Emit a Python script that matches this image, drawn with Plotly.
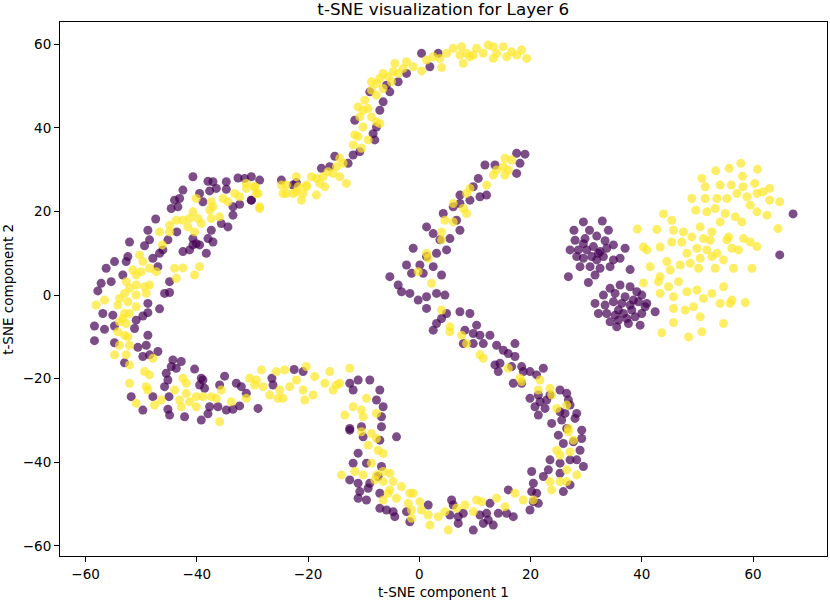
import plotly.graph_objects as go

# t-SNE coordinates, split by region of the embedding
# label 0 (purple)
purple_left_c = [
    [-40.7, 28.3], [-38.0, 27.2], [-37.1, 27.1], [-34.7, 27.1], [-32.6, 28.0], [-31.4, 27.9],
    [-30.2, 28.3], [-28.7, 27.5], [-36.5, 25.5], [-34.7, 25.3], [-37.7, 24.9], [-39.5, 24.3],
    [-42.5, 25.1], [-44.0, 22.7], [-43.1, 23.1], [-44.6, 20.7], [-43.4, 21.1], [-38.9, 22.3],
    [-33.5, 21.1], [-32.3, 21.7], [-30.2, 22.7], [-33.5, 19.1], [-34.4, 16.3], [-35.6, 17.1],
    [-47.4, 18.2], [-48.8, 15.5], [-52.1, 12.7], [-49.4, 11.8], [-48.5, 13.2], [-45.2, 13.2],
    [-43.6, 15.1], [-40.7, 13.5], [-40.1, 12.3], [-39.5, 12.0], [-40.7, 12.0], [-38.0, 13.5],
    [-37.1, 12.7], [-37.4, 15.5], [-42.5, 10.4], [-41.3, 10.8], [-38.3, 10.0], [-46.1, 10.8],
    [-46.7, 10.0], [-47.9, 8.8], [-52.4, 9.2], [-52.7, 8.0], [-54.8, 8.0], [-56.3, 6.4],
    [-53.3, 4.8], [-47.0, 6.8], [-57.2, 2.8], [-57.8, 1.0], [-55.4, 3.2], [-44.9, 3.2],
    [-45.8, 0.4], [-44.9, 0.6], [-48.8, -2.0],
    [-56.9, -4.4], [-55.1, -4.8], [-48.8, -4.2], [-46.7, -3.3], [-49.7, -5.0], [-50.9, -6.0],
    [-58.4, -7.4], [-56.6, -8.2], [-54.8, -7.4], [-51.2, -8.0], [-48.8, -9.6], [-58.4, -10.9],
    [-54.8, -11.4], [-50.6, -12.5], [-49.1, -12.0], [-49.7, -14.7], [-47.0, -13.5], [-48.5, -14.3],
    [-53.0, -16.2], [-44.3, -15.5], [-42.8, -15.9], [-44.6, -17.1], [-43.7, -17.5], [-40.4, -17.7],
    [-45.5, -18.7], [-45.2, -20.3], [-45.8, -21.9], [-39.2, -19.9], [-38.9, -20.3], [-39.5, -21.5],
    [-38.6, -22.3], [-35.9, -21.5], [-35.0, -19.4], [-32.9, -21.1], [-32.0, -21.9], [-31.1, -23.5],
    [-26.5, -19.9], [-26.3, -21.5], [-51.8, -24.3], [-47.9, -24.3], [-45.0, -24.3], [-49.7, -27.5],
    [-45.2, -27.3], [-44.9, -28.7], [-42.2, -29.1], [-39.2, -29.9], [-37.7, -26.7], [-36.2, -26.7],
    [-38.0, -28.4], [-34.7, -27.5], [-33.5, -27.3], [-32.3, -26.5], [-29.0, -27.1],
    [-22.5, -17.8], [-20.9, -18.3], [-24.8, 27.5], [-22.1, 26.9],
]
purple_upper_s = [
    [0.4, 57.8], [3.4, 57.8], [1.9, 54.6], [-2.3, 53.0], [-3.8, 51.0], [-5.9, 50.2],
    [-5.3, 48.6], [-8.9, 48.6], [-6.5, 46.2], [-7.1, 44.2], [-11.6, 41.8], [-7.7, 40.2],
    [-8.3, 38.6], [-8.0, 37.1], [-10.7, 34.3], [-11.9, 33.5], [-12.8, 31.5], [-15.2, 33.2],
    [-16.1, 30.7], [-17.6, 30.3], [-22.7, 26.3], [-30.2, 22.7],
]
purple_diagonal = [
    [11.8, 31.1], [13.6, 31.1], [17.5, 33.9], [19.0, 33.7], [18.1, 31.5], [17.5, 29.1],
    [10.6, 27.9], [9.7, 25.9], [7.3, 23.9], [10.9, 23.5], [12.1, 23.9], [9.1, 22.7],
    [7.3, 21.9], [6.1, 21.1], [4.3, 19.5], [6.7, 17.9], [7.3, 15.5], [5.5, 13.5],
    [3.7, 13.2], [1.3, 16.3], [2.5, 14.7], [4.9, 10.8], [3.1, 10.0], [1.3, 9.2],
    [-1.1, 11.2], [0.1, 7.2], [-2.3, 7.2], [-1.4, 5.2], [0.7, 5.2], [2.5, 6.8],
    [4.0, 4.8], [-5.3, 4.4], [-3.8, 2.4], [-3.2, 0.8], [-1.7, 0.4], [-0.2, -1.2],
    [1.3, -0.4], [3.1, 0.4], [4.6, 0.0], [1.3, -3.2], [2.5, -8.4], [3.1, -6.8],
    [4.0, -5.6], [4.9, -4.4], [7.3, -4.0], [9.1, -4.4], [10.3, -7.2], [8.2, -8.4],
]
purple_lower_s = [
    [-12.5, -21.1], [-11.0, -20.3], [-11.9, -22.7], [-8.9, -20.3], [-7.1, -22.7], [-7.7, -25.1],
    [-6.5, -26.7], [-6.8, -29.1], [-6.8, -31.5], [-10.4, -31.5], [-12.5, -31.9],
    [-12.5, -32.3], [-10.1, -33.9], [-7.1, -34.7], [-4.1, -33.9], [-11.0, -37.8], [-11.9, -40.2],
    [-9.5, -40.2], [-6.8, -41.0], [-7.4, -43.4], [-12.5, -44.2], [-11.0, -45.0], [-9.2, -46.2],
    [-8.9, -45.0], [-10.7, -47.0], [-11.0, -48.6], [-9.5, -49.0], [-7.1, -47.4], [-7.1, -51.0],
    [-5.9, -51.4], [-4.7, -51.8], [-4.4, -53.0], [-2.3, -51.8], [-1.7, -54.2], [1.6, -50.2],
    [5.8, -49.0], [6.1, -50.2], [5.5, -52.6], [7.0, -53.0], [7.0, -54.6], [7.9, -52.2],
    [9.7, -56.2], [10.9, -52.6], [12.7, -49.8], [12.1, -52.2], [12.4, -53.8], [11.5, -54.6],
    [13.3, -55.0], [14.2, -52.2], [15.7, -52.2], [16.9, -53.0], [16.0, -46.6], [19.9, -51.4],
    [20.5, -49.4], [21.4, -49.8], [21.1, -47.4], [20.2, -47.0], [20.5, -45.0], [20.2, -42.2],
    [22.3, -43.4], [23.2, -41.8], [23.5, -39.4], [25.3, -40.2], [25.3, -42.6], [25.9, -47.0],
    [27.1, -45.4], [25.0, -33.5], [25.9, -35.5], [27.7, -35.1], [29.2, -34.3], [28.9, -37.1],
    [28.3, -39.4], [29.5, -41.0], [27.1, -39.4],
    [7.9, -11.6], [9.7, -9.2], [10.9, -9.6], [11.5, -11.6], [12.7, -9.6], [13.9, -12.0],
    [15.1, -13.2], [16.0, -14.0], [17.2, -14.7], [17.2, -11.6], [13.6, -16.7], [14.5, -16.3],
    [14.2, -18.3], [16.6, -17.1], [18.4, -17.1], [18.7, -18.3], [19.9, -18.3], [21.1, -19.1],
    [22.3, -17.5], [16.9, -21.1], [18.4, -21.1], [19.9, -24.7], [21.4, -23.9], [21.7, -25.5],
    [20.8, -26.7], [22.9, -25.1], [22.6, -27.1], [21.4, -28.7], [23.5, -23.9], [25.3, -22.7],
    [26.5, -23.5], [26.8, -25.1], [27.1, -26.3], [25.3, -27.9], [26.2, -28.3], [25.6, -29.9],
    [28.3, -28.3], [28.0, -29.5], [23.8, -30.7], [29.2, -32.3], [26.5, -31.9], [9.7, -11.6],
]
purple_clusters = [
    [29.5, 17.5], [32.9, 17.7], [27.8, 15.5], [30.6, 15.5], [34.0, 15.5], [31.9, 14.1],
    [28.0, 13.1], [29.5, 12.3], [33.4, 13.0], [27.1, 10.8], [28.6, 10.8], [30.1, 10.8],
    [31.3, 11.6], [32.5, 10.4], [33.7, 11.2], [34.9, 12.0], [31.0, 9.2], [29.5, 8.8],
    [31.9, 8.4], [33.1, 9.2], [34.9, 8.4], [36.1, 8.8], [37.0, 11.2], [28.9, 6.8],
    [30.7, 6.8], [32.5, 6.4], [34.3, 6.8], [26.8, 4.4], [30.4, 3.0], [31.6, 4.8],
    [37.9, 6.1], [28.3, 9.2], [29.8, 13.5], [32.2, 10.0],
    [34.3, 1.6], [36.1, 2.4], [37.9, 2.0], [33.1, 0.0], [35.2, 0.4], [37.0, -0.4],
    [39.1, 0.8], [40.0, 0.0], [31.6, -2.0], [33.4, -2.4], [34.9, -1.6], [36.4, -2.0],
    [37.9, -2.4], [39.4, -1.6], [40.9, -2.0], [42.4, -4.0], [33.7, -4.4], [35.2, -4.8],
    [36.7, -4.4], [38.2, -3.6], [40.0, -4.4], [40.6, -2.8], [34.3, -6.4], [35.8, -6.0],
    [37.3, -5.6], [38.8, -5.2], [35.5, -7.6], [37.6, -6.8], [39.7, -7.2], [32.2, -4.4],
    [38.5, -1.2], [35.8, -3.6], [67.2, 19.4], [64.8, 9.6],
]

# label 1 (yellow)
yellow_left_c = [
    [-40.1, 23.1], [-37.4, 22.3], [-37.1, 21.1], [-35.3, 23.1], [-34.4, 22.3], [-33.2, 24.3],
    [-32.3, 23.5], [-31.1, 25.5], [-29.6, 25.9], [-29.0, 24.3], [-28.7, 20.7], [-37.7, 20.3],
    [-40.7, 19.9], [-41.3, 18.3], [-42.5, 17.9], [-43.7, 17.9], [-44.9, 16.7], [-46.7, 15.1],
    [-44.9, 15.1], [-41.6, 16.3], [-39.8, 18.3], [-39.2, 17.1], [-40.4, 15.1], [-37.4, 18.3],
    [-35.9, 18.7], [-46.2, 12.0], [-50.3, 9.6], [-49.7, 8.0], [-51.5, 6.0], [-50.9, 4.8],
    [-50.0, 5.6], [-48.5, 6.4], [-47.3, 5.6], [-44.0, 6.4], [-42.5, 6.5], [-39.5, 6.8],
    [-40.4, 4.8], [-43.7, 4.0], [-52.7, 3.2], [-52.1, 1.6], [-50.9, 2.4], [-49.4, 2.0],
    [-48.5, 2.4], [-53.0, 0.4], [-50.9, 0.0], [-49.1, 0.4], [-53.9, -0.8], [-52.4, -1.6],
    [-56.6, -1.2], [-58.1, -2.4],
    [-54.2, -2.4], [-50.9, -2.8], [-52.1, -4.4], [-53.0, -4.4], [-53.3, -5.6], [-52.7, -6.8],
    [-53.9, -6.4], [-54.2, -8.8], [-53.0, -9.6], [-52.4, -10.0], [-52.1, -12.0], [-53.9, -12.0],
    [-54.8, -14.3], [-52.7, -14.3], [-52.1, -16.7], [-47.9, -15.1], [-49.4, -18.3], [-48.5, -19.1],
    [-49.1, -21.9], [-48.8, -22.7], [-52.1, -21.1], [-42.5, -19.9], [-41.9, -21.1], [-44.0, -22.7],
    [-43.1, -25.1], [-41.9, -23.5], [-41.3, -25.5], [-42.8, -26.7], [-46.4, -25.1], [-47.6, -26.3],
    [-50.9, -25.9], [-40.1, -24.3], [-38.9, -24.3], [-37.4, -24.3], [-36.5, -24.7], [-35.6, -22.7],
    [-33.8, -25.5], [-40.1, -26.7], [-30.5, -19.9], [-29.3, -20.3], [-28.4, -17.9], [-28.1, -21.9],
    [-26.9, -23.9], [-25.7, -18.3], [-25.4, -24.7], [-31.1, -24.7], [-29.6, -21.5], [-35.9, -30.3],
    [-25.1, -22.7],
    [-24.8, 26.3], [-23.9, 24.3], [-22.1, 24.7], [-20.3, 25.9], [-24.5, -24.7], [-23.3, -21.9],
    [-22.1, -20.3], [-20.9, -22.7], [-20.6, -25.1], [-24.2, -17.9],
]
yellow_upper_s = [
    [6.1, 59.0], [7.6, 59.4], [7.3, 57.4], [8.5, 57.8], [4.9, 57.8], [3.7, 56.6],
    [2.5, 57.0], [1.3, 56.2], [0.4, 53.6], [4.0, 54.4], [7.9, 55.4], [10.3, 59.0],
    [12.4, 59.8], [13.3, 59.4], [15.1, 59.4], [16.6, 58.2], [18.4, 58.6], [19.3, 56.6],
    [17.5, 57.4], [15.7, 57.0], [13.3, 56.6], [11.5, 57.8], [9.7, 57.4], [13.9, 57.8],
    [9.1, 57.0], [-1.1, 54.6], [-2.3, 55.8], [-2.9, 54.2], [-4.4, 55.4], [-4.7, 53.4],
    [-5.6, 52.2], [-6.5, 53.0], [-7.1, 51.8], [-5.0, 51.0], [-3.8, 53.0], [-7.7, 50.6],
    [-8.6, 51.0], [-6.5, 49.4], [-8.6, 49.0], [-7.7, 47.8], [-9.8, 46.6], [-11.0, 45.0],
    [-10.1, 44.2], [-9.2, 44.6], [-8.6, 42.6], [-10.7, 42.6], [-10.1, 40.2], [-11.6, 38.3],
    [-11.0, 37.9], [-11.9, 35.9], [-10.4, 35.1], [-9.2, 37.1], [-7.7, 41.4], [-7.1, 41.0],
    [-14.3, 32.7], [-13.7, 31.5], [-14.9, 30.7], [-15.5, 29.1], [-16.4, 29.5], [-14.3, 28.3],
    [-13.1, 26.7], [-17.3, 28.3], [-17.9, 26.7], [-18.5, 27.9], [-19.4, 28.3], [-20.3, 26.3],
    [-20.9, 24.3], [-21.8, 25.9], [-22.7, 24.3], [-24.5, 24.3], [-23.9, 26.3], [-21.2, 22.7],
    [-18.5, 23.9], [-17.0, 25.9], [-22.1, 28.3], [-29.3, 24.3], [-29.6, 25.9], [-31.1, 26.7],
    [-28.7, 21.1],
]
yellow_diagonal = [
    [15.4, 32.7], [16.6, 32.3], [15.1, 30.7], [16.0, 29.9], [13.9, 29.9], [13.3, 28.7],
    [15.4, 28.7], [12.1, 26.3], [9.1, 25.5], [8.5, 24.3], [6.1, 21.9], [7.9, 20.7],
    [8.5, 19.5], [4.6, 17.9], [6.1, 17.5], [4.0, 15.1], [4.0, 13.2], [1.3, 10.0],
    [1.6, 8.8], [-0.2, 5.6], [2.2, 2.8], [4.0, -3.6], [5.5, -7.6],
]
yellow_lower_s = [
    [-10.1, -29.1], [-10.4, -27.5], [-11.9, -26.7], [-13.4, -28.7], [-9.5, -24.7], [-7.7, -28.3],
    [-12.5, -17.5], [-14.3, -21.1], [-15.5, -22.7], [-17.0, -21.1], [-19.1, -23.9], [-20.3, -17.1],
    [-18.8, -19.5], [-16.1, -18.3], [-14.9, -21.5],
    [-10.4, -32.7], [-8.6, -33.1], [-7.7, -34.3], [-9.2, -35.9], [-7.4, -37.1], [-6.5, -37.9],
    [-8.6, -40.2], [-14.0, -43.0], [-11.6, -42.2], [-10.1, -43.0], [-7.7, -43.0], [-6.5, -42.2],
    [-5.3, -42.6], [-8.0, -44.2], [-6.5, -44.6], [-4.7, -44.6], [-5.3, -46.6], [-5.6, -47.4],
    [-3.2, -45.8], [-4.1, -48.6], [-1.7, -47.4], [-1.1, -47.4], [-6.5, -49.0], [-2.0, -49.8],
    [-1.4, -51.4], [0.1, -49.4], [0.4, -51.4], [1.6, -52.6], [-1.4, -53.4], [1.9, -55.0],
    [3.4, -53.0], [4.6, -51.8], [5.2, -56.2], [6.7, -51.0], [8.2, -50.2], [9.7, -51.8],
    [10.3, -49.0], [11.2, -49.4], [13.9, -48.6], [15.4, -50.6], [17.2, -47.4], [18.7, -49.0],
    [20.5, -49.0], [23.5, -44.6], [23.8, -46.6], [25.3, -44.6], [26.5, -44.6], [26.5, -41.8],
    [28.3, -43.0], [24.7, -37.1], [25.3, -38.3], [27.1, -37.5], [27.7, -34.7], [26.8, -32.7],
    [5.5, -8.8], [7.6, -9.6], [8.5, -11.6], [10.9, -14.3], [11.5, -15.1], [16.0, -17.5],
    [18.1, -19.9], [18.4, -20.7], [21.7, -20.3], [21.4, -22.7], [23.5, -22.3], [23.8, -23.9],
    [24.7, -27.1], [26.5, -26.3], [26.8, -31.9],
]
yellow_cluster = [
    [50.8, 27.9], [53.3, 29.7], [55.7, 30.3], [57.8, 31.5], [60.8, 30.1], [58.1, 28.4],
    [51.4, 25.9], [54.1, 26.3], [56.1, 26.3], [58.2, 25.9], [60.3, 26.7], [63.0, 25.5],
    [49.0, 23.1], [51.4, 23.1], [53.5, 23.1], [55.3, 23.1], [57.1, 24.3], [58.9, 23.5],
    [60.7, 24.3], [61.8, 24.7], [63.0, 22.7], [64.8, 22.3], [49.7, 20.3], [51.7, 19.9],
    [53.2, 20.7], [55.0, 19.5], [56.8, 18.7], [58.0, 17.5], [59.5, 21.5], [60.7, 19.9],
    [62.5, 19.1], [54.1, 17.5], [64.5, 15.9],
    [43.9, 19.4], [45.4, 17.9], [42.7, 15.7], [39.2, 15.8], [40.3, 11.5], [40.9, 10.8],
    [43.3, 11.5], [45.7, 15.5], [47.5, 15.1], [49.0, 13.9], [50.5, 16.3], [52.6, 15.1],
    [51.1, 13.5], [55.3, 13.2], [55.6, 13.9], [58.3, 13.5], [59.5, 12.7], [60.7, 11.6],
    [57.4, 10.8], [52.3, 13.1], [47.2, 12.7], [45.4, 12.7], [48.1, 10.0], [49.9, 11.2],
    [51.7, 10.8], [53.5, 10.0], [54.7, 8.4], [56.2, 11.2], [44.5, 8.0], [46.9, 7.2],
    [41.5, 6.8], [43.3, 4.4], [45.1, 6.0], [48.7, 7.6], [50.5, 8.8], [52.6, 9.2],
    [50.2, 6.4], [53.2, 6.4], [56.5, 6.4], [59.8, 6.4], [43.0, 3.2], [44.8, 2.0],
    [46.6, 3.2], [40.3, 2.9], [48.1, 0.8], [49.9, 1.2], [52.6, 0.4], [54.7, 2.0],
    [45.7, -0.4], [43.3, 0.4], [51.1, -0.8], [54.1, -2.0], [55.9, -2.0], [58.6, -1.8],
    [56.2, -1.2], [45.7, -3.2], [47.8, -3.6], [49.3, -2.8], [50.5, -5.2], [54.7, -6.8],
    [45.7, -6.6], [43.6, -9.0], [48.4, -10.0], [50.8, -8.8],
]

tick_vals = [-60, -40, -20, 0, 20, 40, 60]
tick_text = ["\u221260", "\u221240", "\u221220", "0", "20", "40", "60"]

purple = purple_left_c + purple_upper_s + purple_diagonal + purple_lower_s + purple_clusters
yellow = yellow_left_c + yellow_upper_s + yellow_diagonal + yellow_lower_s + yellow_cluster

fig = go.Figure()
for pts, color in [(purple, "#440154"), (yellow, "#fde725")]:
    fig.add_trace(go.Scatter(
        x=[p[0] for p in pts],
        y=[p[1] for p in pts],
        mode="markers",
        marker=dict(color=color, size=9, opacity=0.7, line=dict(width=0)),
        showlegend=False,
    ))

axis_style = dict(
    showgrid=False, zeroline=False, showline=True, linecolor="black", linewidth=1,
    mirror=True, ticks="outside", ticklen=5, tickcolor="black", automargin=False,
    tickfont=dict(size=13.5, color="black"), tickvals=tick_vals, ticktext=tick_text,
)
fig.update_xaxes(range=[-64.6, 73.3], ticklabelstandoff=1, **axis_style)
fig.update_yaxes(range=[-62.4, 65.3], **axis_style)

# axis titles placed as annotations so they sit where matplotlib put them
fig.add_annotation(text="t-SNE component 1", xref="paper", yref="paper", x=0.5, y=-0.068,
                   yanchor="middle", showarrow=False, font=dict(size=13.5, color="black"))
fig.add_annotation(text="t-SNE component 2", xref="paper", yref="paper", x=-0.068, y=0.5,
                   xanchor="center", textangle=-90, showarrow=False,
                   font=dict(size=13.5, color="black"))

fig.update_layout(
    width=830, height=600,
    margin=dict(l=60, r=3, t=22, b=44),
    paper_bgcolor="white", plot_bgcolor="white",
    font=dict(family="DejaVu Sans", color="black"),
    title=dict(text="t-SNE visualization for Layer 6", x=0.534, xanchor="center",
               y=0.985, yanchor="middle", yref="container", font=dict(size=16.7, color="black")),
)

# drop the page's default body margin so the figure starts at the window corner
fig.write_html("out.html", config={"displayModeBar": False},
               post_script="document.body.style.margin='0px';")
